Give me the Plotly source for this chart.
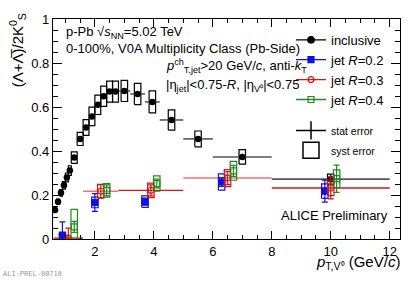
import plotly.graph_objects as go

# ---------------- data ----------------
incl_edges = [0.6, 0.7, 0.8, 0.9, 1.0, 1.1, 1.2, 1.4, 1.6, 1.8, 2.0, 2.2, 2.4, 2.6, 2.8,
              3.2, 3.7, 4.2, 5.0, 6.0, 8.0, 12.0]
incl_val = [0.132, 0.169, 0.210, 0.244, 0.280, 0.311, 0.370, 0.455, 0.507, 0.557, 0.610,
            0.649, 0.670, 0.670, 0.673, 0.659, 0.623, 0.541, 0.455, 0.373, 0.272]
incl_stat = [0.003, 0.003, 0.003, 0.003, 0.003, 0.004, 0.004, 0.004, 0.005, 0.005, 0.005,
             0.006, 0.006, 0.006, 0.007, 0.008, 0.009, 0.010, 0.012, 0.014, 0.020]
incl_syst = [0.009, 0.012, 0.015, 0.017, 0.020, 0.022, 0.026, 0.030, 0.036, 0.042, 0.044,
             0.046, 0.048, 0.048, 0.048, 0.048, 0.050, 0.046, 0.036, 0.033, 0.023]

jet_edges = [0.6, 1.6, 2.8, 5.0, 8.0, 12.0]
r02_val = [0.018, 0.166, 0.170, 0.259, 0.218]
r02_stat = [0.060, 0.040, 0.016, 0.020, 0.050]
r02_syst = [0.006, 0.024, 0.026, 0.037, 0.033]
r03_val = [0.004, 0.217, 0.221, 0.277, 0.232]
r03_stat = [0.045, 0.030, 0.025, 0.030, 0.050]
r03_syst = [0.005, 0.031, 0.033, 0.039, 0.035]
r04_val = [0.055, 0.221, 0.252, 0.310, 0.274]
r04_stat = [0.025, 0.025, 0.020, 0.025, 0.062]
r04_syst = [0.080, 0.031, 0.035, 0.043, 0.040]

series_names = ["inclusive", "jet <i>R</i>=0.2", "jet <i>R</i>=0.3", "jet <i>R</i>=0.4"]

# ---------------- style ----------------
BLACK = "#000000"
BLUE = "#1010e0"
RED = "#dd1010"
PINK = "#ee7272"
GREEN = "#1f8a1f"
FONT = "Liberation Sans"
red_xerr_colors = [RED, PINK, RED, PINK, RED]
jet_offsets = {"r02": -0.2, "r03": 0.0, "r04": 0.2}
BOX_HW = 0.11

W, H = 414, 282
PL, PR, PT, PB = 53, 400, 14, 239


def xp(px):
    return (px - PL) / (PR - PL)


def yp(py):
    return (PB - py) / (PB - PT)


def centers(edges):
    return [(a + b) / 2 for a, b in zip(edges[:-1], edges[1:])]


def halfw(edges):
    return [(b - a) / 2 for a, b in zip(edges[:-1], edges[1:])]


def box_path(xs, vals, errs, hws):
    bx, by = [], []
    for x, v, e, hw in zip(xs, vals, errs, hws):
        bx += [x - hw, x + hw, x + hw, x - hw, x - hw, None]
        by += [v - e, v - e, v + e, v + e, v - e, None]
    return bx, by


fig = go.Figure()

# inclusive
ic = centers(incl_edges)
ihw = halfw(incl_edges)
bx, by = box_path(ic, incl_val, incl_syst, [min(h, BOX_HW) for h in ihw])
fig.add_trace(go.Scatter(x=bx, y=by, mode="lines", line=dict(color=BLACK, width=1.2),
                         showlegend=False, hoverinfo="skip"))
fig.add_trace(go.Scatter(
    x=ic, y=incl_val, mode="markers",
    marker=dict(symbol="circle", size=6.5, color=BLACK),
    error_y=dict(type="data", array=incl_stat, color=BLACK, thickness=1.2, width=0),
    error_x=dict(type="data", array=ihw, color="#555555", thickness=1.6, width=0),
    showlegend=False))

jc = centers(jet_edges)
jhw = halfw(jet_edges)

# red x-error bars (jet R=0.3)
for col in (RED, PINK):
    lx, ly = [], []
    for i, (c, h, v) in enumerate(zip(jc, jhw, r03_val)):
        if red_xerr_colors[i] == col:
            lx += [c - h, c + h, None]
            ly += [v, v, None]
    fig.add_trace(go.Scatter(x=lx, y=ly, mode="lines", line=dict(color=col, width=1.4),
                             showlegend=False, hoverinfo="skip"))

jets = [
    ("r02", r02_val, r02_stat, r02_syst, BLUE, "square", BLUE),
    ("r03", r03_val, r03_stat, r03_syst, RED, "circle-open", RED),
    ("r04", r04_val, r04_stat, r04_syst, GREEN, "square-open", GREEN),
]
for key, vals, stat, syst, col, sym, mcol in jets:
    xs = [c + jet_offsets[key] for c in jc]
    bx, by = box_path(xs, vals, syst, [BOX_HW] * len(xs))
    fig.add_trace(go.Scatter(x=bx, y=by, mode="lines", line=dict(color=col, width=1.2),
                             showlegend=False, hoverinfo="skip"))
    fig.add_trace(go.Scatter(
        x=xs, y=vals, mode="markers",
        marker=dict(symbol=sym, size=6, color=mcol, line=dict(color=col, width=1.2)),
        error_y=dict(type="data", array=stat, color=col, thickness=1.2, width=3),
        showlegend=False))

# legend entries
leg = [
    (series_names[0], "circle", BLACK, 6.5),
    (series_names[1], "square", BLUE, 6),
    (series_names[2], "circle-open", RED, 6),
    (series_names[3], "square-open", GREEN, 6),
]
for name, sym, col, sz in leg:
    fig.add_trace(go.Scatter(x=[None], y=[None], mode="lines+markers", name=name,
                             legendgroup="a",
                             line=dict(color=col, width=1.3),
                             marker=dict(symbol=sym, size=sz, color=col,
                                         line=dict(color=col, width=1.2))))
fig.add_trace(go.Scatter(x=[None], y=[None], mode="lines+markers",
                         name="<span style='font-size:10.5px'>stat error</span>",
                         legendgroup="b",
                         line=dict(color=BLACK, width=1.5),
                         marker=dict(symbol="line-ns", size=13,
                                     line=dict(color=BLACK, width=1.5))))
fig.add_trace(go.Scatter(x=[None], y=[None], mode="markers",
                         name="<span style='font-size:10.5px'>syst error</span>",
                         legendgroup="b",
                         marker=dict(symbol="square-open", size=17, color=BLACK,
                                     line=dict(color=BLACK, width=1.5))))

ann = []


def add_text(text, x, y, xanchor="left", yanchor="middle", size=13, angle=0,
             family=FONT, color=BLACK):
    ann.append(dict(text=text, x=xp(x), y=yp(y), xref="paper", yref="paper",
                    xanchor=xanchor, yanchor=yanchor, showarrow=False, textangle=angle,
                    font=dict(family=family, size=size, color=color)))


add_text("p-Pb √<i>s</i><sub>NN</sub>=5.02 TeV", 64, 28)
add_text("0-100%, V0A Multiplicity Class (Pb-Side)", 64, 44)
add_text("<i>p</i><sup>ch</sup><sub>T,jet</sub>&gt;20 GeV/<i>c</i>, anti-<i>k</i><sub>T</sub>",
         164, 62)
add_text("|η<sub>jet</sub>|&lt;0.75-<i>R</i>, |η<sub>V⁰</sub>|&lt;0.75", 164, 82)
add_text("ALICE Preliminary", 390, 215, xanchor="right")
add_text("<i>p</i><sub>T,V⁰</sub> (GeV/<i>c</i>)", 402, 263, xanchor="right", size=15)
add_text("(Λ+Λ̅)/2K<sup>0</sup><sub>S</sub>", 17, 46, xanchor="center", size=15, angle=-90)
add_text("ALI-PREL-80718", 1, 275, size=7, family="DejaVu Sans Mono", color="#9a9a9a")

axis_common = dict(showgrid=False, zeroline=False, showline=True, linecolor=BLACK,
                   linewidth=1.3, mirror="allticks", ticks="inside", tickcolor=BLACK,
                   tickwidth=1, tickfont=dict(family=FONT, size=13, color=BLACK))

fig.update_layout(
    width=W, height=H,
    margin=dict(l=PL, r=W - PR, t=PT, b=H - PB),
    paper_bgcolor="white", plot_bgcolor="white",
    xaxis=dict(range=[0.58, 12.35], tick0=0, dtick=2, ticklen=8,
               minor=dict(dtick=0.5, ticklen=4, ticks="inside", tickcolor=BLACK, tickwidth=1),
               **axis_common),
    yaxis=dict(range=[0, 1], tick0=0, dtick=0.2, ticklen=9,
               minor=dict(dtick=0.05, ticklen=5, ticks="inside", tickcolor=BLACK, tickwidth=1),
               **axis_common),
    legend=dict(x=xp(291), y=yp(20), xanchor="left", yanchor="top",
                bgcolor="rgba(0,0,0,0)", font=dict(family=FONT, size=13, color=BLACK),
                tracegroupgap=11, itemwidth=30),
    annotations=ann,
    showlegend=True,
)

fig.write_html("out.html", config={"displayModeBar": False},
               post_script="document.body.style.margin='0px';document.body.style.overflow='hidden';")
